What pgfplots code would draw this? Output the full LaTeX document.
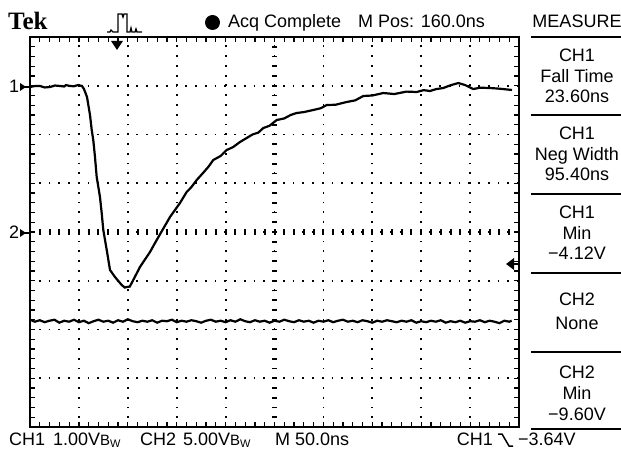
\documentclass[border=0pt]{standalone}
\usepackage{pgfplots}
\pgfplotsset{compat=1.18}
\usepackage{fontspec}
\setmainfont{Liberation Sans}
\newfontfamily\tekfont{Liberation Serif}
\begin{document}
\begin{tikzpicture}[x=1pt,y=1pt]
\fill[white] (0,0) rectangle (621,450);
\path[use as bounding box] (0,0) rectangle (621,450);
\begin{axis}[at={(30pt,23pt)}, anchor=south west, scale only axis,
  width=489pt, height=390pt,
  xmin=-5, xmax=5, ymin=-4, ymax=4,
  xtick={-5,...,5}, ytick={-4,...,4},
  minor x tick num=4, minor y tick num=4,
  xticklabels={}, yticklabels={},
  tick align=inside, major tick length=5pt, minor tick length=5pt,
  tick style={black, line width=1.2pt},
  grid=major,
  major grid style={black, line width=1.8pt, dash pattern=on 1.8pt off 7.96pt, dash phase=0.9pt},
  axis line style={line width=1.8pt},
  clip=true]
\draw[line width=5pt, dash pattern=on 1.8pt off 7.95pt, dash phase=0.9pt] (axis cs:0,-4) -- (axis cs:0,4);
\draw[line width=6pt, dash pattern=on 2pt off 7.78pt, dash phase=1pt] (axis cs:-5,0) -- (axis cs:5,0);
% CH1
\addplot[black, line width=2.2pt] coordinates {
(-5.000,2.974) (-4.900,2.994) (-4.796,2.995) (-4.700,2.965) (-4.591,2.974) (-4.489,3.005)
(-4.387,2.995) (-4.300,2.985) (-4.264,3.015) (-4.182,2.995) (-4.100,2.990) (-4.018,3.015)
(-3.937,2.995) (-3.896,2.933) (-3.834,2.769) (-3.773,2.400) (-3.738,2.092) (-3.706,1.887)
(-3.671,1.538) (-3.636,1.128) (-3.569,0.718) (-3.534,0.390) (-3.501,0.041) (-3.431,-0.369)
(-3.364,-0.779) (-3.262,-0.923) (-3.125,-1.087) (-3.060,-1.140) (-3.022,-1.128) (-2.960,-1.120)
(-2.920,-1.046) (-2.751,-0.718) (-2.546,-0.410) (-2.409,-0.164) (-2.137,0.308) (-1.933,0.595)
(-1.796,0.821) (-1.700,0.920) (-1.591,1.067) (-1.462,1.210) (-1.350,1.340) (-1.252,1.477)
(-1.100,1.560) (-0.978,1.682) (-0.850,1.740) (-0.700,1.850) (-0.569,1.928) (-0.450,2.000)
(-0.330,2.040) (-0.229,2.133) (-0.100,2.180) (0.045,2.297) (0.200,2.330) (0.330,2.400)
(0.454,2.441) (0.600,2.460) (0.793,2.503) (0.950,2.540) (1.067,2.605) (1.250,2.610)
(1.476,2.667) (1.650,2.700) (1.816,2.790) (2.000,2.800) (2.225,2.851) (2.450,2.830)
(2.700,2.880) (2.908,2.872) (3.050,2.910) (3.180,2.892) (3.300,2.930) (3.452,2.954)
(3.600,3.010) (3.759,3.056) (3.896,3.015) (4.065,2.933) (4.200,2.960) (4.407,2.954)
(4.600,2.940) (4.857,2.913)
};
% CH2
\addplot[black, line width=2.2pt] coordinates {
(-5.0,-1.80) (-4.9,-1.84) (-4.8,-1.81) (-4.7,-1.85) (-4.6,-1.82) (-4.5,-1.80) (-4.4,-1.86)
(-4.3,-1.82) (-4.2,-1.84) (-4.1,-1.80) (-4.0,-1.85) (-3.9,-1.82) (-3.8,-1.87) (-3.7,-1.83)
(-3.6,-1.80) (-3.5,-1.84) (-3.4,-1.82) (-3.3,-1.86) (-3.2,-1.81) (-3.1,-1.84) (-3.0,-1.79)
(-2.9,-1.83) (-2.8,-1.85) (-2.7,-1.82) (-2.6,-1.84) (-2.5,-1.81) (-2.4,-1.86) (-2.3,-1.82)
(-2.2,-1.83) (-2.1,-1.80) (-2.0,-1.85) (-1.9,-1.82) (-1.8,-1.84) (-1.7,-1.81) (-1.6,-1.83)
(-1.5,-1.86) (-1.4,-1.82) (-1.3,-1.80) (-1.2,-1.84) (-1.1,-1.82) (-1.0,-1.85) (-0.9,-1.81)
(-0.8,-1.84) (-0.7,-1.79) (-0.6,-1.83) (-0.5,-1.85) (-0.4,-1.81) (-0.3,-1.84) (-0.2,-1.82)
(-0.1,-1.86) (0.0,-1.82) (0.1,-1.84) (0.2,-1.80) (0.3,-1.83) (0.4,-1.85) (0.5,-1.81)
(0.6,-1.84) (0.7,-1.82) (0.8,-1.86) (0.9,-1.82) (1.0,-1.84) (1.1,-1.81) (1.2,-1.85)
(1.3,-1.82) (1.4,-1.80) (1.5,-1.84) (1.6,-1.82) (1.7,-1.85) (1.8,-1.81) (1.9,-1.83)
(2.0,-1.86) (2.1,-1.82) (2.2,-1.84) (2.3,-1.81) (2.4,-1.83) (2.5,-1.85) (2.6,-1.82)
(2.7,-1.84) (2.8,-1.81) (2.9,-1.86) (3.0,-1.83) (3.1,-1.85) (3.2,-1.82) (3.3,-1.84)
(3.4,-1.81) (3.5,-1.86) (3.6,-1.83) (3.7,-1.85) (3.8,-1.82) (3.9,-1.86) (4.0,-1.83)
(4.1,-1.84) (4.2,-1.81) (4.3,-1.85) (4.4,-1.82) (4.5,-1.84) (4.6,-1.87) (4.7,-1.82)
(4.8,-1.84) (4.85,-1.82)
};
\end{axis}
% top row
\node[anchor=base west, inner sep=0, font=\tekfont\bfseries\fontsize{25}{27}\selectfont] at (8,420) {Tek};
\draw[line width=1.3pt] (107,418)--(110,418)--(111,420)--(113,418)--(118,418)--(118,436)--(122,436)--(123,433)--(124,436)--(127,436)--(127,418)--(130,418)--(131,422)--(132,418)--(135,418)--(136,421)--(137,418)--(142,418);
\fill (212.5,427.5) circle (7.5);
\begin{scope}[every node/.style={inner sep=0, font=\fontsize{18}{20}\selectfont}]
\node[anchor=base west] at (228,422) {Acq Complete};
\node[anchor=base west] at (358,422) {M Pos: 160.0ns};
\node[anchor=base] at (577,422) {MEASURE};
% panel
\node[anchor=base] at (577,388) {CH1};
\node[anchor=base] at (577,367) {Fall Time};
\node[anchor=base] at (577,347) {23.60ns};
\node[anchor=base] at (577,310) {CH1};
\node[anchor=base] at (577,289) {Neg Width};
\node[anchor=base] at (577,269) {95.40ns};
\node[anchor=base] at (577,231) {CH1};
\node[anchor=base] at (577,210) {Min};
\node[anchor=base] at (577,190) {−4.12V};
\node[anchor=base] at (577,144) {CH2};
\node[anchor=base] at (577,121) {None};
\node[anchor=base] at (577,72) {CH2};
\node[anchor=base] at (577,51) {Min};
\node[anchor=base] at (577,30) {−9.60V};
% bottom row
\node[anchor=base west] at (9,5) {CH1};
\node[anchor=base west] at (53,5) {1.00V\fontsize{15}{15}\selectfont B\raisebox{-2.5pt}{\fontsize{11}{11}\selectfont W}};
\node[anchor=base west] at (140,5) {CH2};
\node[anchor=base west] at (183,5) {5.00V\fontsize{15}{15}\selectfont B\raisebox{-2.5pt}{\fontsize{11}{11}\selectfont W}};
\node[anchor=base west] at (275,5) {M 50.0ns};
\node[anchor=base east] at (493,5) {CH1};
\node[anchor=base west] at (518,5) {−3.64V};
% markers
\node[anchor=base west] at (9,357) {1};
\node[anchor=base west] at (9,211) {2};
\end{scope}
\fill (20,367) -- (20,359) -- (26,363) -- cycle;
\draw[line width=1.5pt] (25,363) -- (30,363);
\fill (20,221) -- (20,213) -- (26,217) -- cycle;
\draw[line width=1.5pt] (25,217) -- (30,217);
\fill (111,409) -- (123,409) -- (117,400) -- cycle;
\fill (506,186) -- (514,192) -- (514,180) -- cycle;
\draw[line width=2.5pt] (513,186) -- (520,186);
\draw[line width=1.5pt] (498,16) -- (502,16) -- (509,4) -- (513,4);
% separators
\foreach \yy in {413,335,256,177,98,21} \draw[line width=1.8pt] (531,\yy) -- (621,\yy);
\end{tikzpicture}
\end{document}
